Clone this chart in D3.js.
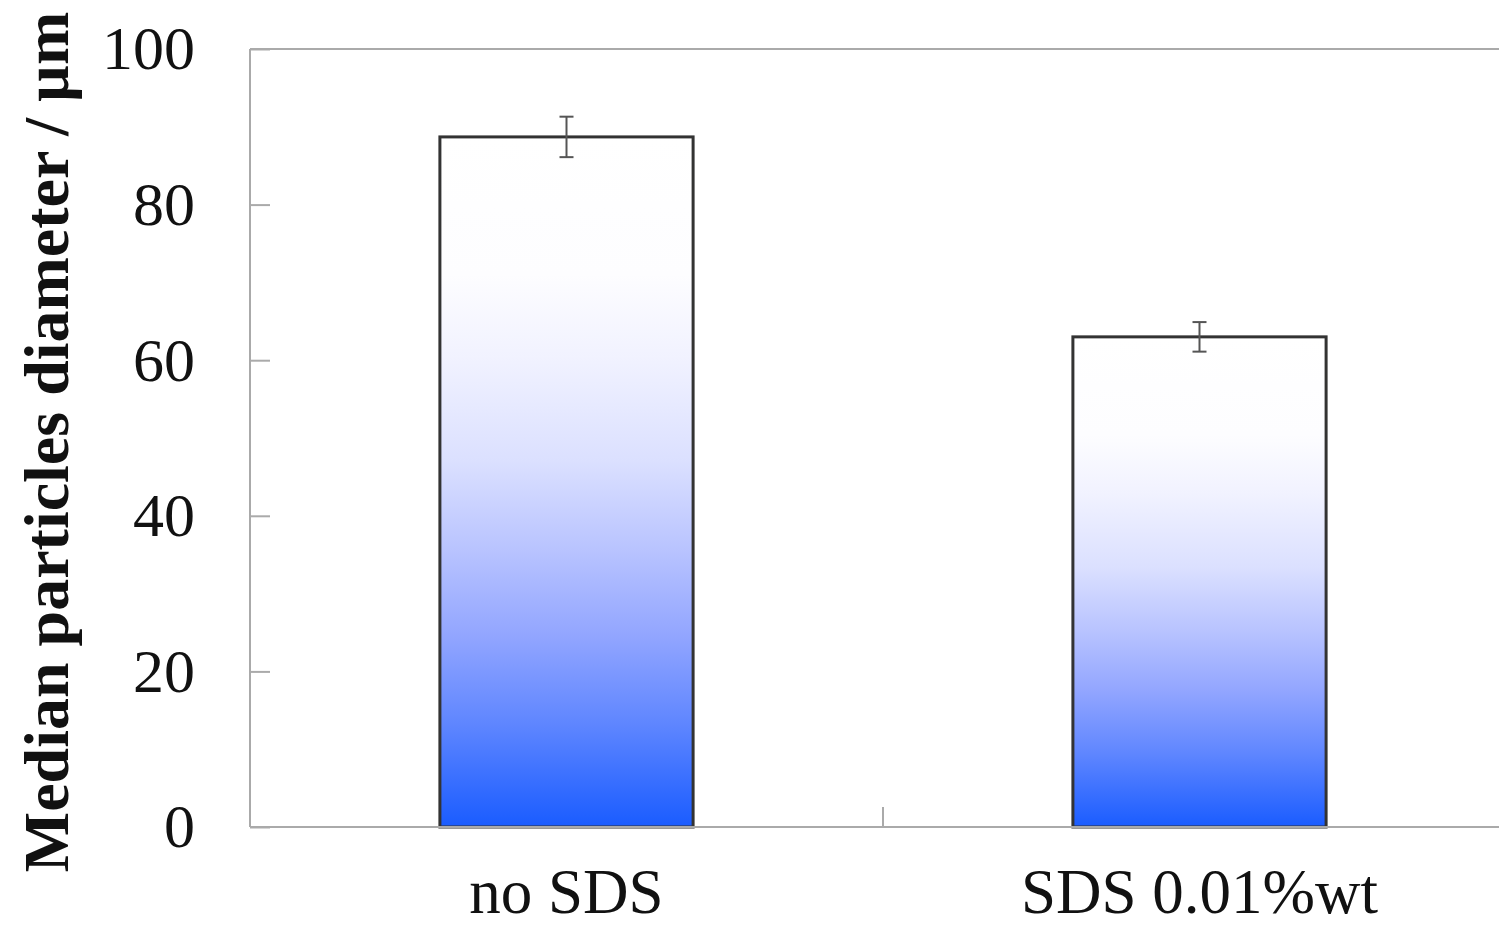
<!DOCTYPE html>
<html>
<head>
<meta charset="utf-8">
<script src="https://cdn.jsdelivr.net/npm/d3@7"></script>
<style>
  body { margin: 0; background: #fff; }
  text { font-family: "Liberation Serif", "Times New Roman", serif; }
</style>
</head>
<body>
<div id="chart"></div>
<script>
// data
var categories = ["no SDS", "SDS 0.01%wt"];
var medians = [88.7, 63.0];
var errors = [2.6, 1.9];
var yTicks = [0, 20, 40, 60, 80, 100];

var svgWidth = 1499;
var svgHeight = 930;
var margin = { top: 49, right: -17, bottom: 103, left: 250 };
var width = svgWidth - margin.left - margin.right;
var height = svgHeight - margin.top - margin.bottom;

var svg = d3.select("#chart")
  .append("svg")
  .attr("width", svgWidth)
  .attr("height", svgHeight);

var defs = svg.append("defs");
var grad = defs.append("linearGradient")
  .attr("id", "barGrad")
  .attr("x1", 0).attr("y1", 0)
  .attr("x2", 0).attr("y2", 1);
[[0, "#ffffff"], [0.2, "#fdfdff"], [0.32, "#f1f2ff"], [0.47, "#dbe0ff"],
 [0.6, "#b8c3ff"], [0.72, "#93a6ff"], [0.85, "#5f86ff"], [1, "#1a5cff"]]
  .forEach(function(s) {
    grad.append("stop").attr("offset", s[0]).attr("stop-color", s[1]);
  });

var chartGroup = svg.append("g")
  .attr("transform", `translate(${margin.left}, ${margin.top})`);

var x = d3.scaleBand()
  .domain(categories)
  .range([0, width])
  .paddingInner(0.6)
  .paddingOuter(0.3);

var y = d3.scaleLinear()
  .domain([0, 100])
  .range([height, 0]);

// frame: left and top lines
chartGroup.append("line")
  .attr("x1", 0).attr("x2", 0)
  .attr("y1", y(0)).attr("y2", y(100))
  .attr("stroke", "#aaa").attr("stroke-width", 2);
chartGroup.append("line")
  .attr("x1", 0).attr("x2", width)
  .attr("y1", y(100)).attr("y2", y(100))
  .attr("stroke", "#aaa").attr("stroke-width", 2);

// y axis, inward ticks
var yAxis = d3.axisLeft(y)
  .tickValues(yTicks)
  .tickSize(-20)
  .tickPadding(55)
  .tickFormat(d3.format("d"));

var yAxisG = chartGroup.append("g").call(yAxis);
yAxisG.select(".domain").remove();
yAxisG.selectAll(".tick line").attr("stroke", "#aaa").attr("stroke-width", 2);
yAxisG.selectAll(".tick text")
  .attr("font-family", "Liberation Serif, serif")
  .attr("font-size", 62)
  .attr("fill", "#111");

// bars
chartGroup.selectAll("rect.bar")
  .data(categories)
  .enter()
  .append("rect")
  .attr("class", "bar")
  .attr("x", d => x(d))
  .attr("y", (d, i) => y(medians[i]))
  .attr("width", x.bandwidth())
  .attr("height", (d, i) => y(0) - y(medians[i]))
  .attr("fill", "url(#barGrad)")
  .attr("stroke", "#333")
  .attr("stroke-width", 3);

// x axis baseline and category separator tick
chartGroup.append("line")
  .attr("x1", 0).attr("x2", width)
  .attr("y1", y(0)).attr("y2", y(0))
  .attr("stroke", "#aaa").attr("stroke-width", 2);

var sep = (x(categories[0]) + x.bandwidth() + x(categories[1])) / 2;
chartGroup.append("line")
  .attr("x1", sep).attr("x2", sep)
  .attr("y1", y(0)).attr("y2", y(0) - 20)
  .attr("stroke", "#aaa").attr("stroke-width", 2);

// error bars
var capW = 7;
var errG = chartGroup.selectAll("g.err")
  .data(categories)
  .enter()
  .append("g")
  .attr("class", "err")
  .attr("stroke", "#555")
  .attr("stroke-width", 2);

errG.append("line")
  .attr("x1", d => x(d) + x.bandwidth() / 2)
  .attr("x2", d => x(d) + x.bandwidth() / 2)
  .attr("y1", (d, i) => y(medians[i] + errors[i]))
  .attr("y2", (d, i) => y(medians[i] - errors[i]));
errG.append("line")
  .attr("x1", d => x(d) + x.bandwidth() / 2 - capW)
  .attr("x2", d => x(d) + x.bandwidth() / 2 + capW)
  .attr("y1", (d, i) => y(medians[i] + errors[i]))
  .attr("y2", (d, i) => y(medians[i] + errors[i]));
errG.append("line")
  .attr("x1", d => x(d) + x.bandwidth() / 2 - capW)
  .attr("x2", d => x(d) + x.bandwidth() / 2 + capW)
  .attr("y1", (d, i) => y(medians[i] - errors[i]))
  .attr("y2", (d, i) => y(medians[i] - errors[i]));

// category labels
chartGroup.selectAll("text.cat")
  .data(categories)
  .enter()
  .append("text")
  .attr("class", "cat")
  .attr("x", d => x(d) + x.bandwidth() / 2)
  .attr("y", height + 86)
  .attr("text-anchor", "middle")
  .attr("font-size", 63)
  .attr("fill", "#111")
  .text(d => d);

// y axis label
svg.append("text")
  .attr("transform", "translate(68, 442) rotate(-90)")
  .attr("text-anchor", "middle")
  .attr("font-size", 64)
  .attr("font-weight", "bold")
  .attr("fill", "#111")
  .text("Median particles diameter / µm");
</script>
</body>
</html>
